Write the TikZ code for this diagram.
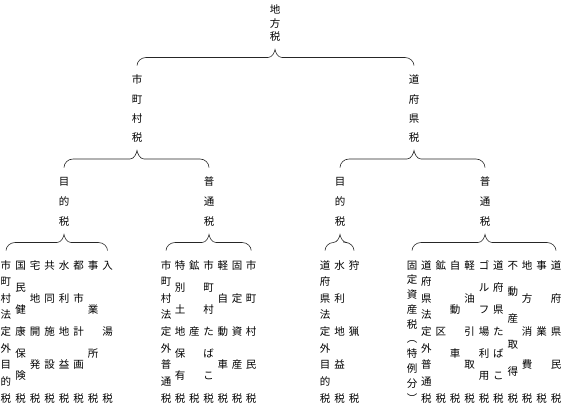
\documentclass[tikz,border=0pt]{standalone}
\usepackage{fontspec}
\usetikzlibrary{calc}
\newfontfamily\jpfont{Noto Sans CJK JP}
\def\tatechars#1#2\tatestop{\hbox to 1em{\hss\vrule height .88em depth .12em width 0pt\relax#1\hss}%
  \ifx\relax#2\relax\else\vfill\tatechars#2\tatestop\fi}
\newcommand\tate[2]{\vbox to \dimexpr#1pt+1em\relax{\offinterlineskip\expandafter\tatechars#2\tatestop\kern0pt}}
\newcommand\kakko[3]{%
  \draw[kakkosen] let \p1=(#1.south), \p2=(#2.north), \p3=(#3.north),
      \n1={\y1-7pt}, \n2={\y2+9pt}, \n3={(\n1+\n2)/2},
      \n4={min(9pt,0.55*(\x1-\x2))}, \n5={min(7pt,0.45*(\x1-\x2))} in
    (\x2,{\n2*1pt}) .. controls (\x2,{\n3*1pt-4pt}) and ({\x2+4pt},{\n3*1pt}) .. ({\x2+\n4*1pt},{\n3*1pt})
    -- ({\x1-\n5*1pt},{\n3*1pt}) .. controls ({\x1-0.4*\n5*1pt},{\n3*1pt}) and ({\x1-0.5pt},{\n1*1pt-3pt}) .. (\x1,{\n1*1pt})
    .. controls ({\x1+0.5pt},{\n1*1pt-3pt}) and ({\x1+0.4*\n5*1pt},{\n3*1pt}) .. ({\x1+\n5*1pt},{\n3*1pt})
    -- ({\x3-\n4*1pt},{\n3*1pt}) .. controls ({\x3-4pt},{\n3*1pt}) and (\x3,{\n3*1pt-4pt}) .. (\x3,{\n2*1pt});
}
\begin{document}
\begin{tikzpicture}[x=1pt,y=-1pt,
    every node/.style={font=\jpfont\fontsize{10.5}{12}\selectfont,inner sep=0pt},
    kakkosen/.style={draw=black!85,line width=0.6pt}]
  \useasboundingbox (0,0) rectangle (567,408);
  \node (chiho) at (275,23.5) {\tate{27}{地方税}};
  \node (shichoson) at (137,109) {\tate{58}{市町村税}};
  \node (todofuken) at (414,109) {\tate{58}{道府県税}};
  \node (smoku) at (64,202) {\tate{40}{目的税}};
  \node (sfutsu) at (209,202) {\tate{40}{普通税}};
  \node (tmoku) at (340,202) {\tate{40}{目的税}};
  \node (tfutsu) at (485,202) {\tate{40}{普通税}};
  \foreach \zei [count=\i] in {市町村法定外目的税,国民健康保険税,宅地開発税,共同施設税,水利地益税,都市計画税,事業所税,入湯税}
    \node (sm\i) at ({6+(\i-1)*14.5},331.5) {\tate{133}{\zei}};
  \foreach \zei [count=\i] in {市町村法定外普通税,特別土地保有税,鉱産税,市町村たばこ税,軽自動車税,固定資産税,市町村民税}
    \node (sf\i) at ({166+(\i-1)*14.2},331.5) {\tate{133}{\zei}};
  \foreach \zei [count=\i] in {道府県法定外目的税,水利地益税,狩猟税}
    \node (tm\i) at ({325+(\i-1)*14.5},331.5) {\tate{133}{\zei}};
  \foreach \zei [count=\i] in {固定資産税︵特例分︶,道府県法定外普通税,鉱区税,自動車税,軽油引取税,ゴルフ場利用税,道府県たばこ税,不動産取得税,地方消費税,事業税,道府県民税}
    \node (tf\i) at ({412+(\i-1)*14.4},331.5) {\tate{133}{\zei}};
  \kakko{chiho}{shichoson}{todofuken}
  \kakko{shichoson}{smoku}{sfutsu}
  \kakko{todofuken}{tmoku}{tfutsu}
  \kakko{smoku}{sm1}{sm8}
  \kakko{sfutsu}{sf1}{sf7}
  \kakko{tmoku}{tm1}{tm3}
  \kakko{tfutsu}{tf1}{tf11}
\end{tikzpicture}
\end{document}
